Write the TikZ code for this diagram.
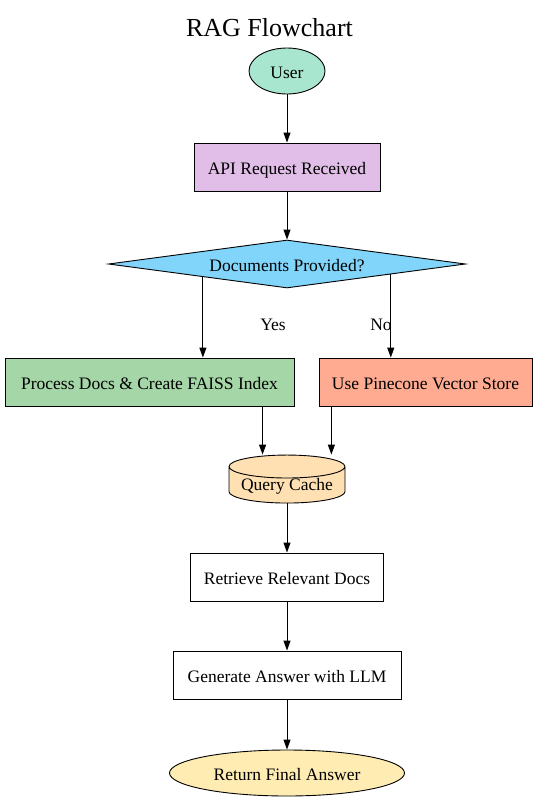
\documentclass[tikz,border=0pt]{standalone}
\usepackage{fontspec}
\setmainfont{Liberation Serif}
\usetikzlibrary{shapes.geometric,arrows.meta,calc}

\definecolor{usercol}{HTML}{A8E6CF}
\definecolor{apicol}{HTML}{E1BEE7}
\definecolor{deccol}{HTML}{81D4FA}
\definecolor{faisscol}{HTML}{A5D6A7}
\definecolor{pinecol}{HTML}{FFAB91}
\definecolor{cachecol}{HTML}{FFE0B2}
\definecolor{retcol}{HTML}{FFECB3}

\tikzset{
  base/.style={draw,line width=0.9pt,inner sep=0pt,text height=14pt,text depth=0pt,
    font=\fontsize{17.5}{20}\selectfont},
  box/.style={base,rectangle,minimum height=48pt},
  oval/.style={base,ellipse,minimum height=46pt},
  decide/.style={base,diamond,aspect=7.4,minimum width=357pt,minimum height=48pt},
  store/.style={base,cylinder,shape border rotate=90,aspect=0.25,minimum width=116pt,minimum height=48pt},
  flow/.style={-{Triangle[length=10pt,width=7pt]},line width=1pt},
  lbl/.style={font=\fontsize{17.5}{20}\selectfont}
}

\begin{document}
\begin{tikzpicture}[x=1pt,y=-1pt]
%\draw[help lines] (0,0) grid[step=50] (539,801);
\useasboundingbox (0,0) rectangle (539,801);

\node[font=\fontsize{26}{30}\selectfont] (title) at (269.5,28) {RAG Flowchart};

\node[oval,fill=usercol,minimum width=76pt] (user) at (287,71) {User};
\node[box,fill=apicol,minimum width=186pt] (api) at (287,167) {API Request Received};
\node[decide,fill=deccol] (dec) at (287,264) {Documents Provided?};
\node[box,fill=faisscol,minimum width=289pt] (proc) at (149.5,382) {Process Docs \& Create FAISS Index};
\node[box,fill=pinecol,minimum width=213pt] (pine) at (425.5,382) {Use Pinecone Vector Store};
\node[store,fill=cachecol,text height=11pt] (cache) at (287,485) {Query Cache};
\node[box,minimum width=193pt] (retr) at (287,577) {Retrieve Relevant Docs};
\node[box,minimum width=228pt] (gen) at (287,675) {Generate Answer with LLM};
\node[oval,fill=retcol,minimum width=235pt] (ret) at (287,773) {Return Final Answer};

\draw[flow] (user) -- (api);
\draw[flow] (api) -- (dec);

\coordinate (yes) at ($(dec.west)!0.53!(dec.south)$);
\coordinate (no) at ($(dec.south)!0.58!(dec.east)$);
\draw[flow] (yes) -- (yes |- proc.north);
\draw[flow] (no) -- (no |- pine.north);
\node[lbl] (yeslbl) at (273,325) {Yes};
\node[lbl] (nolbl) at (381,325) {No};

\coordinate (pout) at ($(proc.south west)!0.89!(proc.south east)$);
\coordinate (vout) at ($(pine.south west)!0.06!(pine.south east)$);
\draw[flow] (pout) -- (pout |- cache.north);
\draw[flow] (vout) -- (vout |- cache.north);

\draw[flow] (cache) -- (retr);
\draw[flow] (retr) -- (gen);
\draw[flow] (gen) -- (ret);

\end{tikzpicture}
\end{document}
